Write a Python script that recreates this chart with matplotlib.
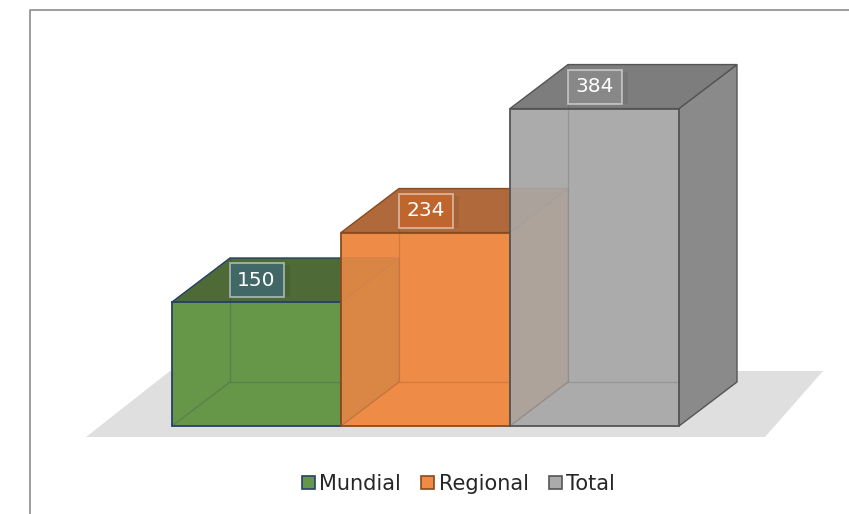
import matplotlib
matplotlib.use("Agg")
import matplotlib.pyplot as plt
from matplotlib.patches import Polygon, Patch

categories = ["Mundial", "Regional", "Total"]
values = [150, 234, 384]
front_colors = ["#669648", "#ee8b47", "#ababab"]
top_colors = ["#4d6a37", "#b0693a", "#7d7d7d"]
side_colors = ["#4f7038", "#c9722f", "#8a8a8a"]
edge_colors = ["#26406a", "#8a4a1e", "#555555"]
label_fills = ["#3f6a78", "#c8672c", "#8f8f8f"]

W, H = 849, 514
PX_X = 169.0           # pixels per bar
PX_Y = 124 / 150       # pixels per value unit
X0, Y0 = 172, 426      # pixel of bar 0 left edge / zero line
DX = 58 / PX_X         # depth offset, x
DY = 44 / PX_Y         # depth offset, y

plt.rcParams["font.family"] = ["DejaVu Sans"]
fig = plt.figure(figsize=(W / 100, H / 100), dpi=100)
ax = fig.add_axes([0, 0, 1, 1])
ax.set_xlim(-X0 / PX_X, (W - X0) / PX_X)
ax.set_ylim(-(H - Y0) / PX_Y, Y0 / PX_Y)
ax.axis("off")


def px(x, y):
    return ((x - X0) / PX_X, (Y0 - y) / PX_Y)


# picture frame and floor, in pixel terms
ax.plot(*zip(px(30, 514), px(30, 10), px(849, 10)), color="#8c8c8c", lw=1.2, zorder=0)
ax.add_patch(Polygon([px(86, 437), px(765, 437), px(823, 371), px(170, 371)],
                     closed=True, fc="#e0dfdf", ec="none", zorder=1))

# opaque inner faces of every box first, so the fronts look uniform
for i, v in enumerate(values):
    l, r = i, i + 1
    ax.add_patch(Polygon([(l, 0), (r, 0), (r + DX, DY), (r + DX, v + DY), (l + DX, v + DY), (l, v)],
                         fc=front_colors[i], ec="none", zorder=2))

z = 3
for i, v in enumerate(values):
    ec = edge_colors[i]
    l, r = i, i + 1
    # right side and top
    ax.add_patch(Polygon([(r, 0), (r + DX, DY), (r + DX, v + DY), (r, v)],
                         fc=side_colors[i], ec=ec, lw=1, zorder=z + 1))
    ax.add_patch(Polygon([(l, v), (r, v), (r + DX, v + DY), (l + DX, v + DY)],
                         fc=top_colors[i], ec=ec, lw=1, zorder=z + 1))
    # translucent front
    ax.bar(l, v, width=1, align="edge", color=front_colors[i], alpha=0.88,
           ec="none", zorder=z + 2)
    ax.bar(l, v, width=1, align="edge", fill=False, ec=ec, lw=1.3, zorder=z + 3)
    # inner edges seen through the front
    ax.plot([l + DX, l + DX, r], [v + DY, DY, DY], color=ec, lw=0.9, alpha=0.25, zorder=z + 3)
    ax.plot([l, l + DX], [0, DY], color=ec, lw=0.9, alpha=0.25, zorder=z + 3)
    # value label
    cx, cy = l + 0.5, v + DY / 2
    hw, hh = 27 / PX_X, 17 / PX_Y
    ax.add_patch(plt.Rectangle((cx - hw, cy - hh), 2 * hw + 6 / PX_X, 2 * hh - 2 / PX_Y, fc="#000000",
                               alpha=0.06, ec="none", zorder=z + 4))
    ax.add_patch(plt.Rectangle((cx - hw, cy - hh), 2 * hw, 2 * hh, fc=label_fills[i], alpha=0.75,
                               ec="none", zorder=z + 4))
    ax.add_patch(plt.Rectangle((cx - hw, cy - hh), 2 * hw, 2 * hh, fill=False,
                               ec="#ffffff", alpha=0.5, lw=1.3, zorder=z + 4))
    ax.text(cx, cy, str(v), color="white", ha="center", va="center", fontsize=14.5,
            zorder=z + 5)
    z += 6

handles = [Patch(fc=c, ec=e, lw=1.2) for c, e in zip(front_colors, edge_colors)]
leg = fig.legend(handles, categories, loc="center", bbox_to_anchor=(458.5 / W, 1 - 484 / H),
                 ncol=3, frameon=False, handlelength=0.62, handleheight=0.62,
                 handletextpad=0.2, columnspacing=1.0, labelcolor="#262626",
                 prop={"family": "DejaVu Sans", "size": 15})
fig.savefig("out.png", dpi=100)
